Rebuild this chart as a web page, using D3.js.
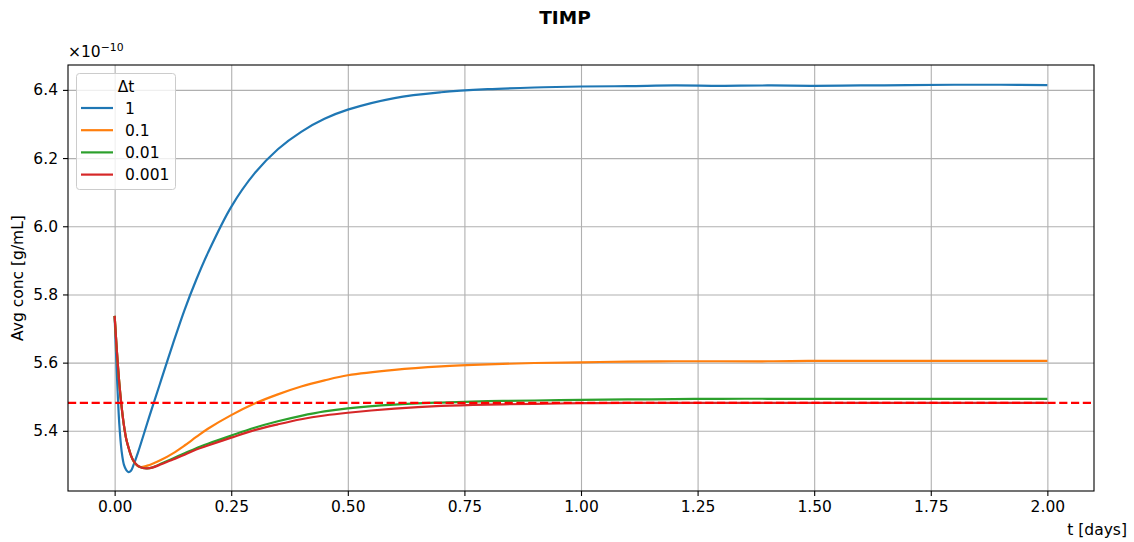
<!DOCTYPE html>
<html>
<head>
<meta charset="utf-8">
<script src="https://cdn.jsdelivr.net/npm/d3@7"></script>
<style>
  body { margin: 0; background: #fff; }
  svg { font-family: "DejaVu Sans", sans-serif; }
</style>
</head>
<body>
<div id="chart_area"></div>
<script>
// time points (days)
var tDays = [0, 0.005, 0.01, 0.015, 0.02, 0.025, 0.03, 0.035, 0.04, 0.05, 0.06, 0.07, 0.08,
    0.1, 0.125, 0.15, 0.175, 0.2, 0.25, 0.3, 0.35, 0.4, 0.45, 0.5, 0.6, 0.7, 0.8, 0.9,
    1.0, 1.1, 1.2, 1.3, 1.4, 1.5, 1.6, 1.7, 1.8, 1.9, 2.0];

// avg conc, units of 1e-10 g/mL
var dt1 = [5.737, 5.56, 5.42, 5.34, 5.30, 5.285, 5.279, 5.283, 5.298, 5.336, 5.379, 5.423, 5.466,
    5.55, 5.655, 5.755, 5.843, 5.922, 6.057, 6.155, 6.226, 6.277, 6.315, 6.342, 6.376, 6.393, 6.402, 6.407,
    6.410, 6.411, 6.413, 6.412, 6.413, 6.412, 6.413, 6.414, 6.415, 6.415, 6.414];
var dt01 = [5.737, 5.63, 5.54, 5.47, 5.415, 5.375, 5.35, 5.328, 5.312, 5.296, 5.294, 5.298, 5.303,
    5.315, 5.334, 5.357, 5.382, 5.406, 5.446, 5.480, 5.507, 5.530, 5.548, 5.563, 5.579, 5.589, 5.595, 5.599,
    5.601, 5.603, 5.604, 5.604, 5.604, 5.605, 5.605, 5.605, 5.605, 5.605, 5.605];
var dt001 = [5.737, 5.63, 5.54, 5.47, 5.415, 5.375, 5.35, 5.328, 5.313, 5.297, 5.291, 5.290, 5.292,
    5.304, 5.319, 5.334, 5.349, 5.362, 5.386, 5.409, 5.428, 5.444, 5.457, 5.466, 5.477, 5.483, 5.487, 5.489,
    5.491, 5.492, 5.493, 5.494, 5.494, 5.494, 5.494, 5.494, 5.494, 5.494, 5.494];
var dt0001 = [5.737, 5.63, 5.54, 5.47, 5.415, 5.375, 5.35, 5.328, 5.313, 5.297, 5.291, 5.290, 5.292,
    5.302, 5.316, 5.330, 5.345, 5.357, 5.380, 5.402, 5.419, 5.434, 5.445, 5.453, 5.465, 5.473, 5.477, 5.479,
    5.481, 5.482, 5.482, 5.482, 5.482, 5.482, 5.482, 5.482, 5.482, 5.482, 5.482];

var seriesNames = ["1", "0.1", "0.01", "0.001"];
var seriesColors = ["#1f77b4", "#ff7f0e", "#2ca02c", "#d62728"];
var refLevel = 5.482;

var xTicks = [0, 0.25, 0.5, 0.75, 1.0, 1.25, 1.5, 1.75, 2.0];
var yTicks = [5.4, 5.6, 5.8, 6.0, 6.2, 6.4];

var fontPx = "15.5px";

// set the dimensions and margins of the graph
var margin = { top: 65, right: 40, bottom: 51, left: 68 },
    width = 1134 - margin.left - margin.right,
    height = 542 - margin.top - margin.bottom;

var root = d3.select("#chart_area")
    .append("svg")
    .attr("width", 1134)
    .attr("height", 542);

var svg = root.append("g")
    .attr("transform", "translate(" + margin.left + "," + margin.top + ")");

var x = d3.scaleLinear().domain([-0.1, 2.1]).range([0, width]);
var y = d3.scaleLinear().domain([5.2235, 6.473]).range([height, 0]);

// grid
svg.append("g")
    .attr("class", "grid")
    .attr("transform", "translate(0," + height + ")")
    .call(d3.axisBottom(x).tickValues(xTicks).tickSize(-height).tickFormat(""))
    .call(function (g) { g.select(".domain").remove(); });
svg.append("g")
    .attr("class", "grid")
    .call(d3.axisLeft(y).tickValues(yTicks).tickSize(-width).tickFormat(""))
    .call(function (g) { g.select(".domain").remove(); });
svg.selectAll(".grid line")
    .attr("stroke", "#b0b0b0")
    .attr("stroke-width", 1.1);

// lines
var allSeries = [dt1, dt01, dt001, dt0001];
var line = d3.line()
    .x(function (d, i) { return x(tDays[i]); })
    .y(function (d) { return y(d); })
    .curve(d3.curveCatmullRom.alpha(0.5));

svg.append("g")
    .selectAll("path.series")
    .data(allSeries)
    .enter()
    .append("path")
    .attr("class", "series")
    .attr("d", line)
    .attr("fill", "none")
    .attr("stroke", function (d, i) { return seriesColors[i]; })
    .attr("stroke-width", 2.2)
    .attr("stroke-linejoin", "round");

// reference dashed line
svg.append("line")
    .attr("x1", 0)
    .attr("x2", width)
    .attr("y1", y(refLevel))
    .attr("y2", y(refLevel))
    .attr("stroke", "red")
    .attr("stroke-width", 2.2)
    .attr("stroke-dasharray", "8.2,3.6");

// axes
var xAxis = svg.append("g")
    .attr("transform", "translate(0," + height + ")")
    .call(d3.axisBottom(x).tickValues(xTicks).tickSize(5).tickPadding(5).tickFormat(d3.format(".2f")));
var yAxis = svg.append("g")
    .call(d3.axisLeft(y).tickValues(yTicks).tickSize(5).tickPadding(5).tickFormat(d3.format(".1f")));
[xAxis, yAxis].forEach(function (g) {
    g.select(".domain").remove();
    g.selectAll("line").attr("stroke", "#000").attr("stroke-width", 1.1);
    g.selectAll("text")
        .attr("fill", "#000")
        .style("font-size", fontPx)
        .style("font-family", "DejaVu Sans");
});

// frame
svg.append("rect")
    .attr("x", 0)
    .attr("y", 0)
    .attr("width", width)
    .attr("height", height)
    .attr("fill", "none")
    .attr("stroke", "#000")
    .attr("stroke-width", 1.1);

// offset text
var off = svg.append("text")
    .attr("x", 0)
    .attr("y", -8)
    .attr("fill", "#000")
    .style("font-size", fontPx);
off.append("tspan").text("\u00d710");
off.append("tspan")
    .attr("dy", -6)
    .style("font-size", "10.8px")
    .text("\u221210");

// title
root.append("text")
    .attr("x", 565)
    .attr("y", 24)
    .attr("text-anchor", "middle")
    .attr("fill", "#000")
    .style("font-size", "18.5px")
    .style("font-weight", "bold")
    .text("TIMP");

// axis labels
root.append("text")
    .attr("x", 1127)
    .attr("y", 535)
    .attr("text-anchor", "end")
    .attr("fill", "#000")
    .style("font-size", fontPx)
    .text("t [days]");

root.append("text")
    .attr("transform", "translate(23," + (margin.top + height / 2) + ") rotate(-90)")
    .attr("text-anchor", "middle")
    .attr("fill", "#000")
    .style("font-size", fontPx)
    .text("Avg conc [g/mL]");

// legend
var leg = root.append("g").attr("transform", "translate(76,73)");
leg.append("rect")
    .attr("x", 0.5)
    .attr("y", 0.5)
    .attr("width", 99)
    .attr("height", 116)
    .attr("rx", 3)
    .attr("fill", "#fff")
    .attr("fill-opacity", 0.8)
    .attr("stroke", "#cccccc")
    .attr("stroke-width", 1);
leg.append("text")
    .attr("x", 50)
    .attr("y", 19)
    .attr("text-anchor", "middle")
    .attr("fill", "#000")
    .style("font-size", fontPx)
    .text("\u0394t");
seriesNames.forEach(function (name, i) {
    var yy = 35 + i * 22.2;
    leg.append("line")
        .attr("x1", 5)
        .attr("x2", 37)
        .attr("y1", yy)
        .attr("y2", yy)
        .attr("stroke", seriesColors[i])
        .attr("stroke-width", 2.2);
    leg.append("text")
        .attr("x", 49)
        .attr("y", yy + 5.5)
        .attr("fill", "#000")
        .style("font-size", fontPx)
        .text(name);
});
</script>
</body>
</html>
